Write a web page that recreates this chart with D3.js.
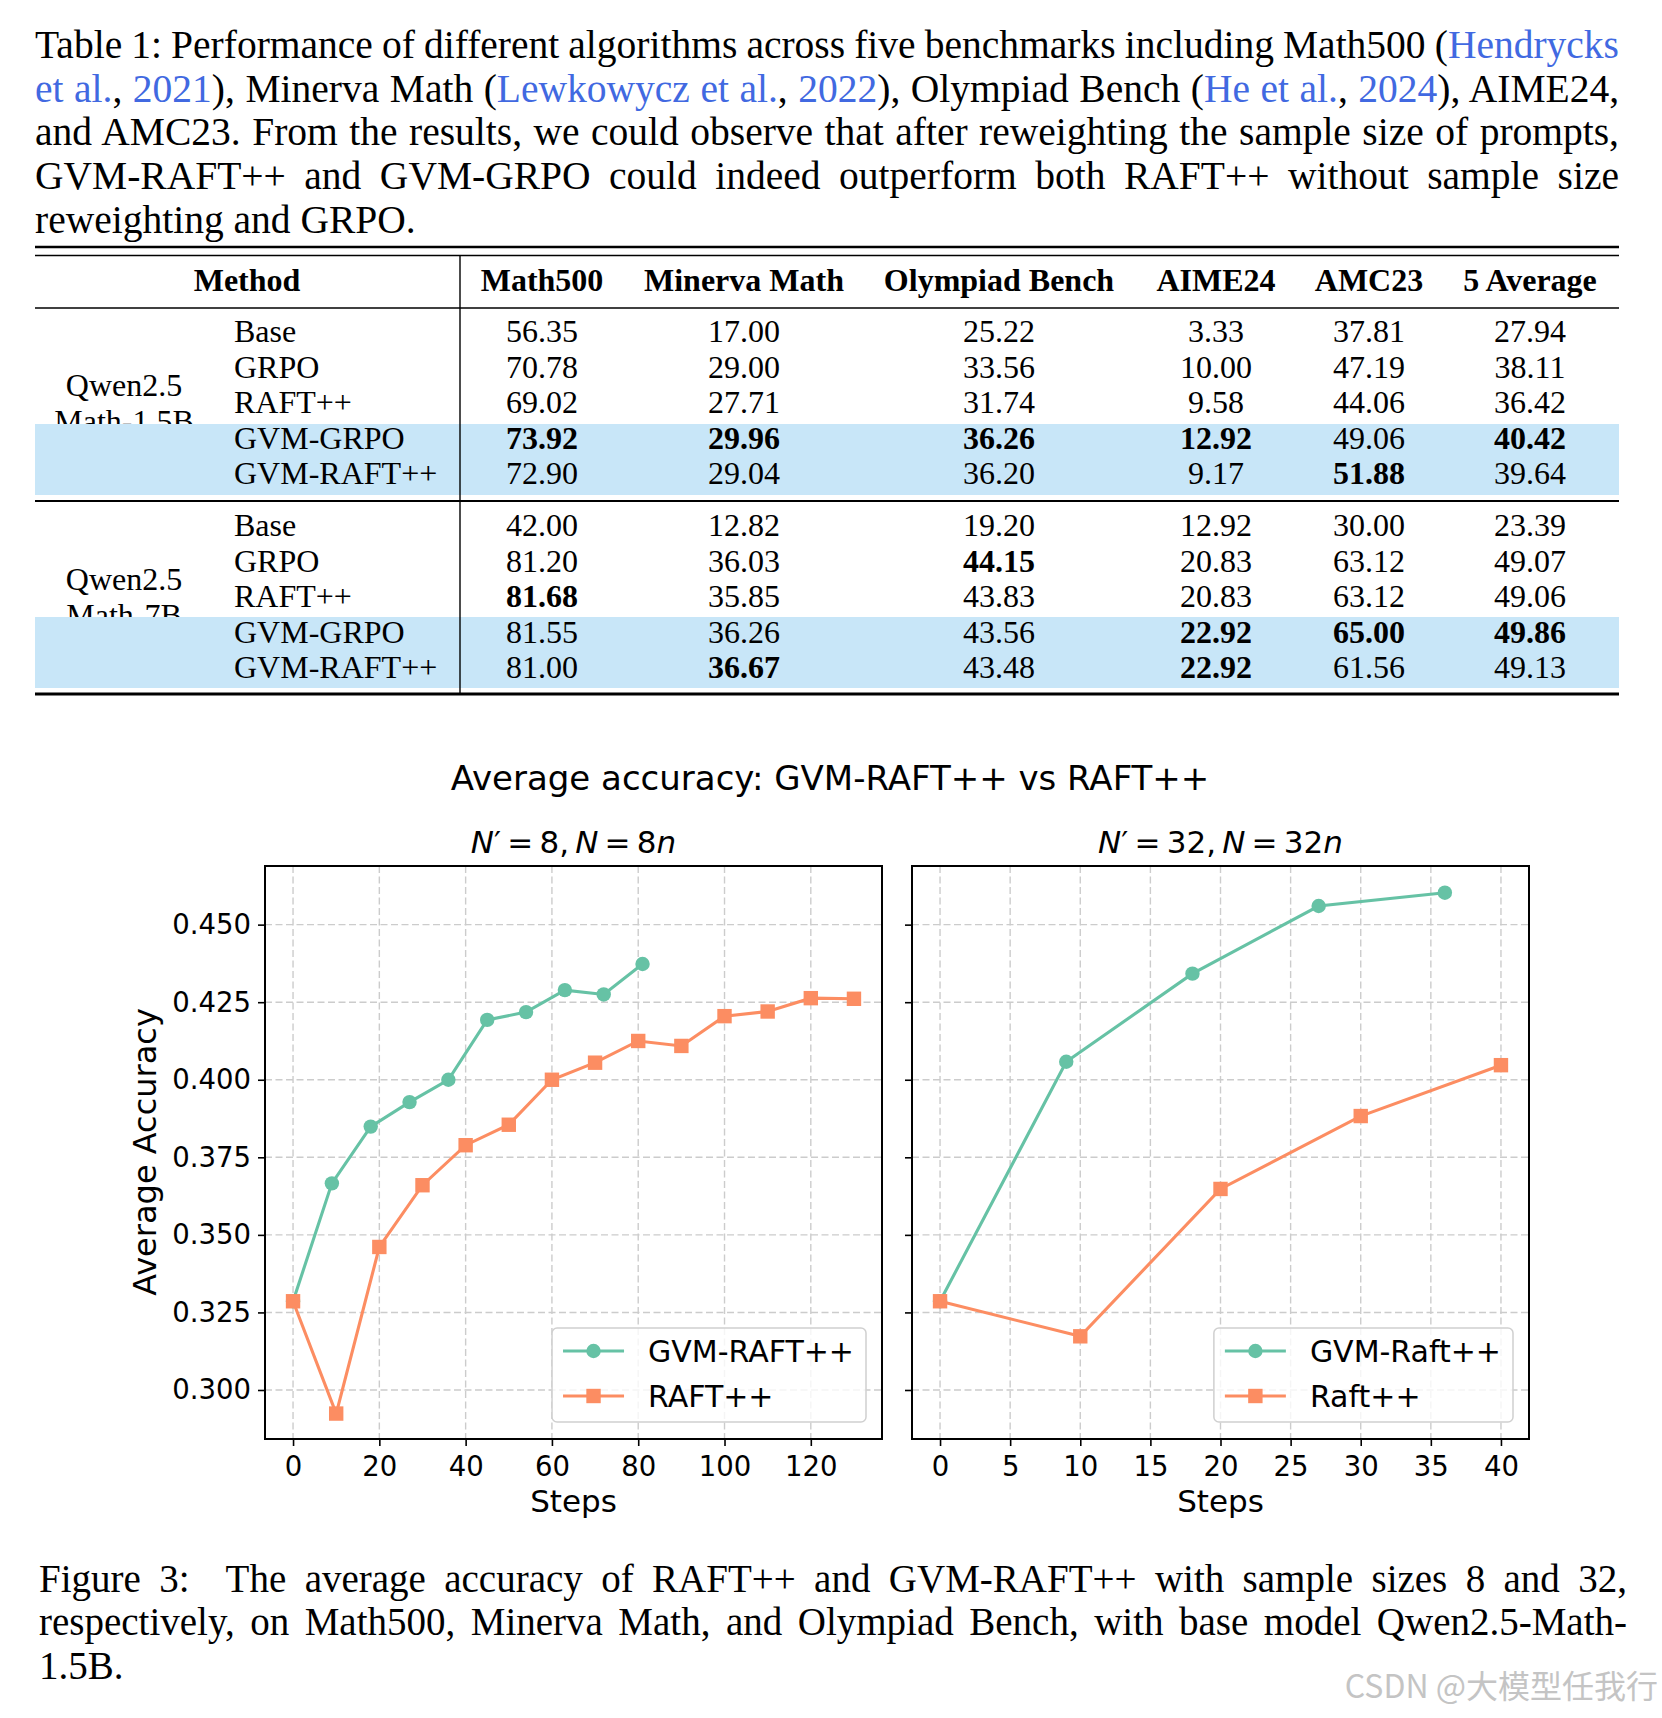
<!DOCTYPE html>
<html>
<head>
<meta charset="utf-8">
<title>GVM-RAFT++ table and figure</title>
<script src="https://cdn.jsdelivr.net/npm/d3@7"></script>
<style>
body { margin: 0; background: #fff; }
svg text { white-space: pre; }
</style>
</head>
<body>
<svg id="page"></svg>
<script>
// ---- table data ----
var tableColumns = ["Math500", "Minerva Math", "Olympiad Bench", "AIME24", "AMC23", "5 Average"];
var methods = ["Base", "GRPO", "RAFT++", "GVM-GRPO", "GVM-RAFT++"];
var modelNames = [["Qwen2.5", "Math-1.5B"], ["Qwen2.5", "Math-7B"]];
var scores15B = [
  ["56.35", "17.00", "25.22", "3.33", "37.81", "27.94"],
  ["70.78", "29.00", "33.56", "10.00", "47.19", "38.11"],
  ["69.02", "27.71", "31.74", "9.58", "44.06", "36.42"],
  ["73.92", "29.96", "36.26", "12.92", "49.06", "40.42"],
  ["72.90", "29.04", "36.20", "9.17", "51.88", "39.64"]
];
var bold15B = [
  [0, 0, 0, 0, 0, 0],
  [0, 0, 0, 0, 0, 0],
  [0, 0, 0, 0, 0, 0],
  [1, 1, 1, 1, 0, 1],
  [0, 0, 0, 0, 1, 0]
];
var scores7B = [
  ["42.00", "12.82", "19.20", "12.92", "30.00", "23.39"],
  ["81.20", "36.03", "44.15", "20.83", "63.12", "49.07"],
  ["81.68", "35.85", "43.83", "20.83", "63.12", "49.06"],
  ["81.55", "36.26", "43.56", "22.92", "65.00", "49.86"],
  ["81.00", "36.67", "43.48", "22.92", "61.56", "49.13"]
];
var bold7B = [
  [0, 0, 0, 0, 0, 0],
  [0, 0, 1, 0, 0, 0],
  [1, 0, 0, 0, 0, 0],
  [0, 0, 0, 1, 1, 1],
  [0, 1, 0, 1, 0, 0]
];

// ---- figure data (average accuracy vs steps) ----
var stepsGvm8 = [0, 9, 18, 27, 36, 45, 54, 63, 72, 81];
var accGvm8 = [0.3286, 0.3666, 0.3849, 0.3928, 0.4000, 0.4193, 0.4218, 0.4289, 0.4275, 0.4373];
var stepsRaft8 = [0, 10, 20, 30, 40, 50, 60, 70, 80, 90, 100, 110, 120, 130];
var accRaft8 = [0.3286, 0.2924, 0.3461, 0.3660, 0.3789, 0.3855, 0.4000, 0.4055, 0.4125, 0.4109, 0.4205, 0.4220, 0.4263, 0.4261];
var stepsGvm32 = [0, 9, 18, 27, 36];
var accGvm32 = [0.3286, 0.4058, 0.4342, 0.4560, 0.4603];
var stepsRaft32 = [0, 10, 20, 30, 40];
var accRaft32 = [0.3286, 0.3173, 0.3648, 0.3883, 0.4047];
var yTicks = [0.300, 0.325, 0.350, 0.375, 0.400, 0.425, 0.450];
var xTicks8 = [0, 20, 40, 60, 80, 100, 120];
var xTicks32 = [0, 5, 10, 15, 20, 25, 30, 35, 40];

var SERIF = "'Liberation Serif', 'Times New Roman', serif";
var SANS = "'DejaVu Sans', sans-serif";
var BLUE = "#4169e1";
var GREEN = "#66c2a5";
var ORANGE = "#fc8d62";

var svg = d3.select("#page").attr("width", 1662).attr("height", 1718);
svg.append("rect").attr("width", 1662).attr("height", 1718).attr("fill", "#fff");

// one line of paragraph text, stretched to width when justify is set
function textLine(x, y, segs, width, size, justify) {
  var t = svg.append("text").attr("x", x).attr("y", y)
    .style("font-family", SERIF).style("font-size", size + "px");
  segs.forEach(function (s) {
    t.append("tspan").attr("fill", s[1] || "#000").text(s[0]);
  });
  if (justify) {
    var w = t.node().getComputedTextLength();
    var spaces = segs.map(function (s) { return s[0]; }).join("").split(" ").length - 1;
    t.style("word-spacing", ((width - w) / spaces) + "px");
  }
}

// ---- table caption ----
var capLines = [
  [["Table 1: Performance of different algorithms across five benchmarks including Math500 ("], ["Hendrycks", BLUE]],
  [["et al.", BLUE], [", "], ["2021", BLUE], ["), Minerva Math ("], ["Lewkowycz et al.", BLUE], [", "], ["2022", BLUE],
   ["), Olympiad Bench ("], ["He et al.", BLUE], [", "], ["2024", BLUE], ["), AIME24,"]],
  [["and AMC23. From the results, we could observe that after reweighting the sample size of prompts,"]],
  [["GVM-RAFT++ and GVM-GRPO could indeed outperform both RAFT++ without sample size"]],
  [["reweighting and GRPO."]]
];
capLines.forEach(function (segs, i) {
  textLine(35, 58 + i * 43.7, segs, 1584, 39.5, i < 4);
});

// ---- table ----
var tLeft = 35, tRight = 1619, vLineX = 460;
var colX = [542, 744, 999, 1216, 1369, 1530];
var groupTop = [342, 536];
var rowStep = 35.6;
var bandY = [[424, 495], [617, 688]];

// group labels first, the blue band sits over their second line
modelNames.forEach(function (names, g) {
  names.forEach(function (n, k) {
    svg.append("text").attr("x", 124).attr("y", groupTop[g] + 54 + k * rowStep)
      .attr("text-anchor", "middle").style("font-family", SERIF).style("font-size", "32px").text(n);
  });
});
bandY.forEach(function (b) {
  svg.append("rect").attr("x", tLeft).attr("y", b[0]).attr("width", tRight - tLeft).attr("height", b[1] - b[0])
    .attr("fill", "#c8e6f8");
});

// header
svg.append("text").attr("x", 247).attr("y", 291).attr("text-anchor", "middle")
  .style("font-family", SERIF).style("font-size", "32px").style("font-weight", "bold").text("Method");
tableColumns.forEach(function (c, j) {
  svg.append("text").attr("x", colX[j]).attr("y", 291).attr("text-anchor", "middle")
    .style("font-family", SERIF).style("font-size", "32px").style("font-weight", "bold").text(c);
});

[[scores15B, bold15B], [scores7B, bold7B]].forEach(function (grp, g) {
  methods.forEach(function (m, i) {
    var yy = groupTop[g] + i * rowStep;
    svg.append("text").attr("x", 234).attr("y", yy)
      .style("font-family", SERIF).style("font-size", "32px").text(m);
    grp[0][i].forEach(function (v, j) {
      svg.append("text").attr("x", colX[j]).attr("y", yy).attr("text-anchor", "middle")
        .style("font-family", SERIF).style("font-size", "32px")
        .style("font-weight", grp[1][i][j] ? "bold" : "normal").text(v);
    });
  });
});

// rules
[[247, 2.6], [255.5, 1.4], [308, 1.4], [501, 2], [694, 3]].forEach(function (r) {
  svg.append("line").attr("x1", tLeft).attr("x2", tRight).attr("y1", r[0]).attr("y2", r[0])
    .attr("stroke", "#000").attr("stroke-width", r[1]);
});
svg.append("line").attr("x1", vLineX).attr("x2", vLineX).attr("y1", 256).attr("y2", 693)
  .attr("stroke", "#000").attr("stroke-width", 1.4);

// ---- figure ----
var axTop = 866, axBottom = 1439;
var y = d3.scaleLinear().domain([0.2842, 0.4689]).range([axBottom, axTop]);

svg.append("text").attr("x", 830).attr("y", 790).attr("text-anchor", "middle")
  .style("font-family", SANS).style("font-size", "34px").text("Average accuracy: GVM-RAFT++ vs RAFT++");

function panel(left, right, domain, xTicks, series, nVal, legendLabels, yLabels) {
  var x = d3.scaleLinear().domain(domain).range([left, right]);
  var g = svg.append("g");

  // grid
  g.selectAll(".gx").data(xTicks).enter().append("line")
    .attr("x1", x).attr("x2", x).attr("y1", axTop).attr("y2", axBottom)
    .attr("stroke", "#cccccc").attr("stroke-width", 1.4).attr("stroke-dasharray", "7,3.5");
  g.selectAll(".gy").data(yTicks).enter().append("line")
    .attr("x1", left).attr("x2", right).attr("y1", y).attr("y2", y)
    .attr("stroke", "#cccccc").attr("stroke-width", 1.4).attr("stroke-dasharray", "7,3.5");

  // lines and markers
  series.forEach(function (s) {
    var pts = s.steps.map(function (st, i) { return [st, s.acc[i]]; });
    g.append("path").datum(pts)
      .attr("d", d3.line().x(function (d) { return x(d[0]); }).y(function (d) { return y(d[1]); }))
      .attr("fill", "none").attr("stroke", s.color).attr("stroke-width", 3.1);
    if (s.shape === "circle") {
      g.selectAll(null).data(pts).enter().append("circle")
        .attr("cx", function (d) { return x(d[0]); }).attr("cy", function (d) { return y(d[1]); })
        .attr("r", 7.2).attr("fill", s.color);
    } else {
      g.selectAll(null).data(pts).enter().append("rect")
        .attr("x", function (d) { return x(d[0]) - 7.2; }).attr("y", function (d) { return y(d[1]) - 7.2; })
        .attr("width", 14.4).attr("height", 14.4).attr("fill", s.color);
    }
  });

  // frame
  g.append("rect").attr("x", left).attr("y", axTop).attr("width", right - left).attr("height", axBottom - axTop)
    .attr("fill", "none").attr("stroke", "#000").attr("stroke-width", 2);

  // axes
  var xa = d3.axisBottom(x).tickValues(xTicks).tickSize(7).tickPadding(10).tickFormat(d3.format("d"));
  var ax = g.append("g").attr("transform", "translate(0," + axBottom + ")").call(xa);
  ax.select(".domain").remove();
  ax.selectAll("line").attr("stroke-width", 1.6);
  ax.selectAll("text").style("font-family", SANS).style("font-size", "27.5px").attr("fill", "#000");

  var ya = d3.axisLeft(y).tickValues(yTicks).tickSize(7).tickPadding(7)
    .tickFormat(yLabels ? d3.format(".3f") : function () { return ""; });
  var ay = g.append("g").attr("transform", "translate(" + left + ",0)").call(ya);
  ay.select(".domain").remove();
  ay.selectAll("line").attr("stroke-width", 1.6);
  ay.selectAll("text").style("font-family", SANS).style("font-size", "27.5px").attr("fill", "#000");

  var cx = (left + right) / 2;
  g.append("text").attr("x", cx).attr("y", 1512).attr("text-anchor", "middle")
    .style("font-family", SANS).style("font-size", "31px").text("Steps");

  // subplot title N' = k, N = kn (mathtext-like spacing)
  var tt = g.append("text").attr("x", cx).attr("y", 853).attr("text-anchor", "middle")
    .style("font-family", SANS).style("font-size", "31px");
  tt.append("tspan").style("font-style", "italic").text("N");
  tt.append("tspan").text("\u2032\u2009=\u2009" + nVal + ",\u2009");
  tt.append("tspan").style("font-style", "italic").text("N");
  tt.append("tspan").text("\u2009=\u2009" + nVal);
  tt.append("tspan").style("font-style", "italic").text("n");

  // legend, lower right
  var lg = g.append("g");
  var boxTop = axBottom - 17 - 94;
  var box = lg.append("rect").attr("y", boxTop).attr("height", 94).attr("rx", 5)
    .attr("fill", "#fff").attr("fill-opacity", 0.8).attr("stroke", "#d0d0d0").attr("stroke-width", 1.5);
  var maxW = 0;
  var texts = [];
  series.forEach(function (s, i) {
    var ly = boxTop + 23 + i * 45;
    var t = lg.append("text").attr("y", ly + 11)
      .style("font-family", SANS).style("font-size", "30px").text(legendLabels[i]);
    texts.push([t, s, ly]);
    maxW = Math.max(maxW, t.node().getComputedTextLength());
  });
  var bw = maxW + 95 + 13;
  var bx = right - 16 - bw;
  box.attr("x", bx).attr("width", bw);
  texts.forEach(function (e) {
    var t = e[0], s = e[1], ly = e[2];
    t.attr("x", bx + 96);
    lg.append("line").attr("x1", bx + 11).attr("x2", bx + 72).attr("y1", ly).attr("y2", ly)
      .attr("stroke", s.color).attr("stroke-width", 3.1);
    if (s.shape === "circle") {
      lg.append("circle").attr("cx", bx + 41.5).attr("cy", ly).attr("r", 7.2).attr("fill", s.color);
    } else {
      lg.append("rect").attr("x", bx + 34.3).attr("y", ly - 7.2).attr("width", 14.4).attr("height", 14.4).attr("fill", s.color);
    }
  });
}

panel(265, 882, [-6.5, 136.5], xTicks8, [
  { steps: stepsGvm8, acc: accGvm8, color: GREEN, shape: "circle" },
  { steps: stepsRaft8, acc: accRaft8, color: ORANGE, shape: "square" }
], "8", ["GVM-RAFT++", "RAFT++"], true);

panel(912, 1529, [-2, 42], xTicks32, [
  { steps: stepsGvm32, acc: accGvm32, color: GREEN, shape: "circle" },
  { steps: stepsRaft32, acc: accRaft32, color: ORANGE, shape: "square" }
], "32", ["GVM-Raft++", "Raft++"], false);

svg.append("text").attr("transform", "translate(156,1152) rotate(-90)").attr("text-anchor", "middle")
  .style("font-family", SANS).style("font-size", "32px").text("Average Accuracy");

// ---- figure caption ----
var figLines = [
  [["Figure 3:  The average accuracy of RAFT++ and GVM-RAFT++ with sample sizes 8 and 32,"]],
  [["respectively, on Math500, Minerva Math, and Olympiad Bench, with base model Qwen2.5-Math-"]],
  [["1.5B."]]
];
figLines.forEach(function (segs, i) {
  textLine(39, 1592 + i * 43.3, segs, 1588, 39, i < 2);
});

// watermark
svg.append("text").attr("x", 1658).attr("y", 1698).attr("text-anchor", "end")
  .style("font-family", "'Noto Sans CJK SC', sans-serif").style("font-size", "32px")
  .attr("fill", "#c4c4c4").text("CSDN @大模型任我行");
</script>
</body>
</html>
